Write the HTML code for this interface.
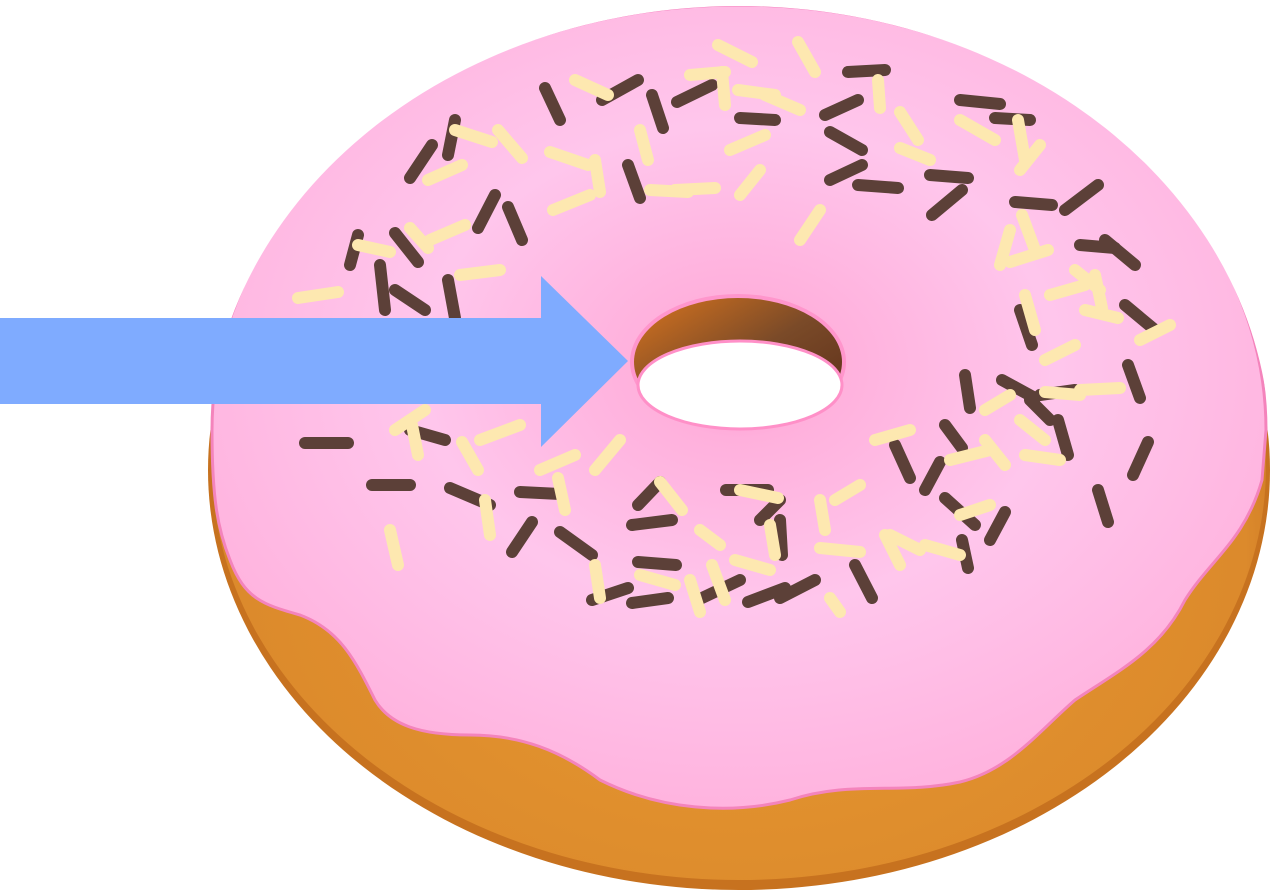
<!DOCTYPE html>
<html><head><meta charset="utf-8"><style>
html,body{margin:0;padding:0;background:#fff;}
svg{display:block;}
</style></head><body>
<svg width="1278" height="893" viewBox="0 0 1278 893">
<defs>
<radialGradient id="dough" cx="0.5" cy="0.6" r="0.6">
<stop offset="0" stop-color="#e89a30"/><stop offset="0.8" stop-color="#dc8a2c"/><stop offset="1" stop-color="#b8621c"/>
</radialGradient>
<radialGradient id="icing" cx="0.5" cy="0.45" r="0.6">
<stop offset="0" stop-color="#ff8fcc"/><stop offset="0.15" stop-color="#ffb0dc"/><stop offset="0.5" stop-color="#ffc6ec"/><stop offset="1" stop-color="#ffb0dc"/>
</radialGradient>
<linearGradient id="hole" x1="0" y1="0" x2="1" y2="1">
<stop offset="0" stop-color="#d8741e"/><stop offset="0.5" stop-color="#7a4a28"/><stop offset="1" stop-color="#5a2c18"/>
</linearGradient>
<clipPath id="body"><ellipse cx="739" cy="448" rx="531" ry="442"/></clipPath>
</defs>
<g>
<ellipse cx="739" cy="470" rx="531" ry="420" fill="#c7721f"/>
<ellipse cx="739" cy="466" rx="527" ry="414" fill="url(#dough)"/>
<g clip-path="url(#body)">
<path fill="url(#icing)" stroke="#f484bc" stroke-width="3"
d="M212,430 A527,425 0 0 1 1266,430 L1262,480 C1245,540 1210,560 1185,600 C1160,650 1120,670 1075,700 C1040,730 1010,770 960,782 C900,795 850,780 790,800 C730,815 660,810 600,780 C560,750 520,735 470,735 C420,735 390,725 375,700 C355,660 340,630 300,615 C265,605 245,600 230,560 C218,530 212,500 212,430 Z"/>
</g>
<ellipse cx="738" cy="362" rx="108" ry="68" fill="#ff96cc"/>
<ellipse cx="738" cy="362" rx="104" ry="64" fill="url(#hole)"/>
<ellipse cx="740" cy="385" rx="102" ry="44" fill="#fff" stroke="#ff90c8" stroke-width="3"/>
</g>
<g stroke-linecap="round" stroke-width="12">
<g stroke="#5c4038">
<line x1="545" y1="88" x2="560" y2="120"/><line x1="602" y1="100" x2="638" y2="80"/><line x1="652" y1="95" x2="663" y2="128"/>
<line x1="677" y1="102" x2="712" y2="85"/><line x1="740" y1="118" x2="775" y2="120"/><line x1="848" y1="72" x2="885" y2="70"/>
<line x1="825" y1="115" x2="858" y2="100"/><line x1="830" y1="132" x2="862" y2="150"/><line x1="960" y1="100" x2="1000" y2="104"/>
<line x1="995" y1="118" x2="1030" y2="120"/><line x1="410" y1="178" x2="432" y2="145"/><line x1="455" y1="120" x2="448" y2="155"/>
<line x1="628" y1="165" x2="640" y2="198"/><line x1="830" y1="180" x2="862" y2="165"/><line x1="858" y1="185" x2="898" y2="188"/>
<line x1="930" y1="175" x2="968" y2="178"/><line x1="932" y1="215" x2="962" y2="190"/><line x1="1015" y1="202" x2="1052" y2="205"/>
<line x1="1065" y1="210" x2="1098" y2="185"/><line x1="1080" y1="245" x2="1115" y2="248"/><line x1="1105" y1="240" x2="1135" y2="265"/>
<line x1="1125" y1="305" x2="1155" y2="330"/><line x1="1020" y1="310" x2="1032" y2="345"/><line x1="350" y1="265" x2="358" y2="235"/>
<line x1="380" y1="265" x2="385" y2="310"/><line x1="395" y1="290" x2="425" y2="310"/><line x1="448" y1="280" x2="455" y2="318"/>
<line x1="395" y1="233" x2="418" y2="262"/><line x1="478" y1="228" x2="495" y2="195"/><line x1="508" y1="207" x2="522" y2="240"/>
<line x1="305" y1="443" x2="348" y2="443"/><line x1="372" y1="485" x2="410" y2="485"/><line x1="450" y1="488" x2="490" y2="505"/>
<line x1="410" y1="430" x2="445" y2="440"/><line x1="520" y1="492" x2="560" y2="494"/><line x1="512" y1="552" x2="532" y2="522"/>
<line x1="560" y1="532" x2="592" y2="555"/><line x1="638" y1="505" x2="660" y2="482"/><line x1="632" y1="525" x2="672" y2="520"/>
<line x1="638" y1="562" x2="676" y2="565"/><line x1="592" y1="600" x2="628" y2="588"/><line x1="632" y1="603" x2="668" y2="598"/>
<line x1="702" y1="598" x2="740" y2="580"/><line x1="748" y1="602" x2="785" y2="588"/><line x1="780" y1="598" x2="815" y2="580"/>
<line x1="726" y1="490" x2="768" y2="490"/><line x1="760" y1="520" x2="780" y2="500"/><line x1="780" y1="520" x2="782" y2="555"/>
<line x1="855" y1="565" x2="872" y2="598"/><line x1="895" y1="445" x2="910" y2="478"/><line x1="925" y1="490" x2="940" y2="462"/>
<line x1="945" y1="425" x2="962" y2="448"/><line x1="945" y1="498" x2="975" y2="525"/><line x1="962" y1="540" x2="968" y2="568"/>
<line x1="990" y1="540" x2="1005" y2="512"/><line x1="965" y1="375" x2="970" y2="408"/><line x1="1002" y1="380" x2="1035" y2="398"/>
<line x1="1030" y1="400" x2="1050" y2="420"/><line x1="1058" y1="420" x2="1068" y2="455"/><line x1="1128" y1="365" x2="1140" y2="398"/>
<line x1="1133" y1="475" x2="1148" y2="442"/><line x1="1098" y1="490" x2="1108" y2="522"/><line x1="1040" y1="395" x2="1075" y2="390"/>
</g>
<g stroke="#fde8b0">
<line x1="718" y1="45" x2="752" y2="62"/><line x1="798" y1="42" x2="815" y2="72"/><line x1="575" y1="80" x2="608" y2="95"/>
<line x1="690" y1="75" x2="725" y2="72"/><line x1="722" y1="72" x2="725" y2="105"/><line x1="738" y1="90" x2="775" y2="95"/>
<line x1="765" y1="95" x2="800" y2="110"/><line x1="878" y1="80" x2="880" y2="108"/><line x1="900" y1="112" x2="918" y2="140"/>
<line x1="960" y1="120" x2="995" y2="140"/><line x1="1018" y1="120" x2="1025" y2="160"/><line x1="1020" y1="170" x2="1040" y2="145"/>
<line x1="900" y1="148" x2="930" y2="160"/><line x1="455" y1="130" x2="492" y2="142"/><line x1="498" y1="130" x2="522" y2="158"/>
<line x1="550" y1="152" x2="588" y2="165"/><line x1="595" y1="160" x2="600" y2="192"/><line x1="553" y1="210" x2="590" y2="195"/>
<line x1="640" y1="130" x2="648" y2="160"/><line x1="650" y1="190" x2="688" y2="192"/><line x1="675" y1="190" x2="715" y2="188"/>
<line x1="730" y1="150" x2="765" y2="135"/><line x1="740" y1="195" x2="760" y2="170"/><line x1="800" y1="240" x2="820" y2="210"/>
<line x1="428" y1="180" x2="462" y2="165"/><line x1="410" y1="228" x2="428" y2="248"/><line x1="430" y1="240" x2="465" y2="225"/>
<line x1="460" y1="275" x2="500" y2="270"/><line x1="298" y1="298" x2="338" y2="292"/><line x1="358" y1="245" x2="390" y2="252"/>
<line x1="1000" y1="265" x2="1010" y2="230"/><line x1="1022" y1="215" x2="1035" y2="250"/><line x1="1010" y1="262" x2="1048" y2="250"/>
<line x1="1050" y1="295" x2="1085" y2="285"/><line x1="1075" y1="270" x2="1100" y2="290"/><line x1="1095" y1="275" x2="1102" y2="308"/>
<line x1="1085" y1="310" x2="1118" y2="318"/><line x1="1140" y1="340" x2="1170" y2="325"/><line x1="1025" y1="295" x2="1035" y2="330"/>
<line x1="1045" y1="360" x2="1075" y2="345"/><line x1="1045" y1="392" x2="1080" y2="395"/><line x1="1080" y1="390" x2="1120" y2="388"/>
<line x1="1020" y1="420" x2="1045" y2="440"/><line x1="1025" y1="455" x2="1060" y2="460"/><line x1="985" y1="410" x2="1010" y2="395"/>
<line x1="985" y1="440" x2="1005" y2="465"/><line x1="950" y1="460" x2="990" y2="450"/><line x1="875" y1="440" x2="910" y2="430"/>
<line x1="960" y1="515" x2="990" y2="505"/><line x1="925" y1="545" x2="960" y2="555"/><line x1="885" y1="535" x2="900" y2="565"/>
<line x1="890" y1="535" x2="920" y2="550"/><line x1="835" y1="500" x2="860" y2="485"/><line x1="820" y1="500" x2="825" y2="530"/>
<line x1="820" y1="548" x2="860" y2="552"/><line x1="830" y1="598" x2="840" y2="612"/><line x1="740" y1="490" x2="778" y2="498"/>
<line x1="770" y1="525" x2="775" y2="555"/><line x1="735" y1="560" x2="770" y2="570"/><line x1="700" y1="530" x2="720" y2="545"/>
<line x1="712" y1="565" x2="725" y2="600"/><line x1="690" y1="580" x2="700" y2="612"/><line x1="595" y1="565" x2="600" y2="598"/>
<line x1="640" y1="575" x2="675" y2="585"/><line x1="660" y1="482" x2="682" y2="510"/><line x1="595" y1="470" x2="620" y2="440"/>
<line x1="540" y1="470" x2="575" y2="455"/><line x1="558" y1="478" x2="565" y2="510"/><line x1="480" y1="440" x2="520" y2="425"/>
<line x1="462" y1="442" x2="478" y2="470"/><line x1="485" y1="500" x2="490" y2="535"/><line x1="390" y1="530" x2="398" y2="565"/>
<line x1="395" y1="430" x2="425" y2="410"/><line x1="412" y1="425" x2="418" y2="455"/>
</g>
</g>
<polygon fill="#7fabff" points="0,318 541,318 541,276 628,361 541,447 541,404 0,404"/>
</svg>
</body></html>
